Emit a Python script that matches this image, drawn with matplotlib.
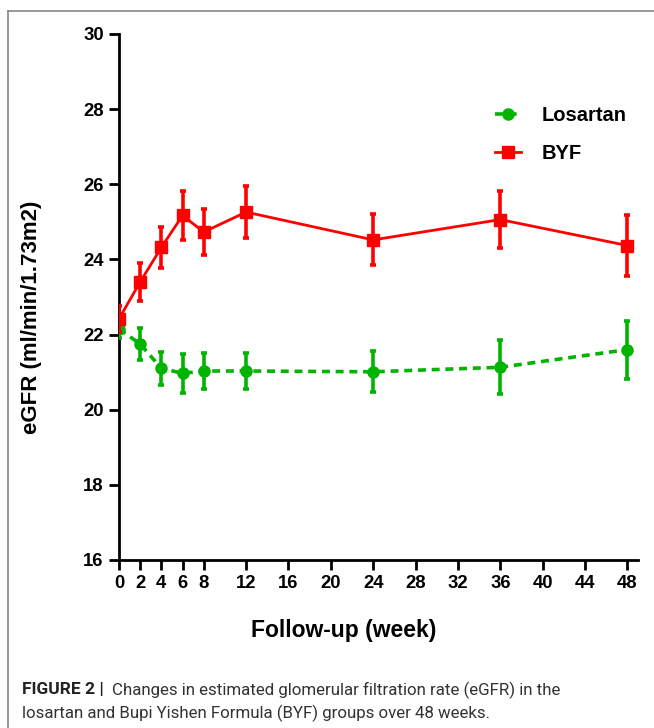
import matplotlib
matplotlib.use("Agg")
import matplotlib.pyplot as plt
from matplotlib.lines import Line2D

weeks = [0, 2, 4, 6, 8, 12, 24, 36, 48]
losartan_mean = [22.15, 21.75, 21.10, 20.97, 21.03, 21.03, 21.01, 21.13, 21.60]
losartan_err = [0.25, 0.42, 0.44, 0.52, 0.48, 0.49, 0.55, 0.72, 0.77]
byf_mean = [22.42, 23.40, 24.32, 25.17, 24.73, 25.26, 24.52, 25.06, 24.37]
byf_err = [0.35, 0.50, 0.55, 0.65, 0.60, 0.69, 0.68, 0.76, 0.80]
xticks = [0, 2, 4, 6, 8, 12, 16, 20, 24, 28, 32, 36, 40, 44, 48]
yticks = [16, 18, 20, 22, 24, 26, 28, 30]
series_labels = ['Losartan', 'BYF']

plt.rcParams['font.family'] = ['Liberation Sans', 'DejaVu Sans']

fig = plt.figure(figsize=(6.54, 7.28), dpi=100)
ax = fig.add_axes([119/654, 1-560/728, (638-119)/654, 526/728])

green = '#00B400'
red = '#FF0000'
green_ls = (0, (2.2, 1.6))

ax.errorbar(weeks, losartan_mean, yerr=losartan_err, color=green, ls=green_ls, lw=2.6,
            marker='o', ms=8, elinewidth=2.6, capsize=2, capthick=2.6, zorder=3)
ax.errorbar(weeks, byf_mean, yerr=byf_err, color=red, ls='-', lw=2.0,
            marker='s', ms=8.5, elinewidth=2.6, capsize=2, capthick=2.6, zorder=4)

ax.set_xlim(0, 49)
ax.set_ylim(16, 30)
ax.set_xticks(xticks)
ax.set_yticks(yticks)
for s in ['top', 'right']:
    ax.spines[s].set_visible(False)
for s in ['left', 'bottom']:
    ax.spines[s].set_linewidth(2)
ax.tick_params(width=2, length=7, labelsize=13.3, pad=4)
for lbl in ax.get_xticklabels() + ax.get_yticklabels():
    lbl.set_fontweight('bold')

ax.set_ylabel('eGFR (ml/min/1.73m2)', fontsize=16, fontweight='bold')
ax.yaxis.set_label_coords(-0.148, 0.462)
ax.set_xlabel('Follow-up (week)', fontsize=16.5, fontweight='bold')
ax.xaxis.set_label_coords(0.432, -0.112)

handles = [
    Line2D([], [], color=green, ls=green_ls, lw=2.6, marker='o', ms=8),
    Line2D([], [], color=red, ls='-', lw=2.0, marker='s', ms=8.5),
]
leg = ax.legend(handles, series_labels, loc='upper left', bbox_to_anchor=(0.69, 0.897), frameon=False,
                fontsize=14.5, labelspacing=0.95, handlelength=1.3, handletextpad=1.0)
for t in leg.get_texts():
    t.set_fontweight('bold')

# frame lines (top and left)
fig.add_artist(Line2D([8/654, 1.0], [1-11/728, 1-11/728], color='#888888', lw=1.2))
fig.add_artist(Line2D([8/654, 8/654], [1-11/728, 0.0], color='#888888', lw=1.2))

# caption
cap_y1 = 1-690/728
fig.text(22/654, cap_y1, 'FIGURE 2 |', fontsize=12.5, fontweight='bold', color='#222222',
         va='center', family=['Roboto', 'DejaVu Sans'])
fig.text(112/654, cap_y1, 'Changes in estimated glomerular filtration rate (eGFR) in the',
         fontsize=12.2, color='#333333', va='center', family=['Roboto', 'DejaVu Sans'])
fig.text(22/654, 1-713/728, 'losartan and Bupi Yishen Formula (BYF) groups over 48 weeks.',
         fontsize=12.2, color='#333333', va='center', family=['Roboto', 'DejaVu Sans'])

fig.savefig('out.png', dpi=100)
